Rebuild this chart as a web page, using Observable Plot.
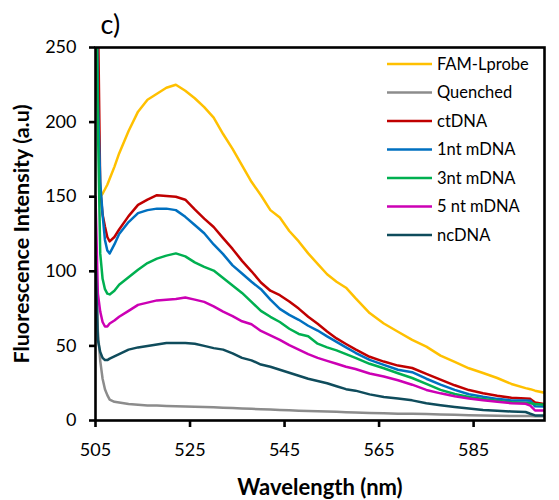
<!DOCTYPE html>
<html>
<head>
<meta charset="utf-8">
<script src="https://cdn.jsdelivr.net/npm/d3@7"></script>
<script src="https://cdn.jsdelivr.net/npm/@observablehq/plot@0.6"></script>
<style>
  html, body { margin: 0; padding: 0; background: #ffffff; }
  #chart { width: 559px; height: 500px; }
</style>
</head>
<body>
<div id="chart"></div>
<script>
// ---- data ----
const wavelength = [505, 505.5, 506, 506.5, 507, 507.5, 508, 509, 510, 512, 514, 516, 518, 520, 522, 524, 526, 528, 530, 532, 534, 536, 538, 540, 542, 544, 546, 548, 550, 552, 554, 556, 558, 560, 563, 566, 569, 572, 575, 578, 581, 584, 587, 590, 593, 596, 597, 598, 600];

const famLprobe = [null, null, 150, 152, 155, 158, 162, 170, 179, 194, 207, 215, 219, 223, 225, 221, 216, 210, 203, 192, 182, 171, 160, 151, 141, 136, 127, 120, 112, 105, 98, 93, 89, 82, 72, 65, 59.5, 54, 49.5, 43.5, 39.3, 35, 31.8, 28.5, 24.5, 21.7, 21, 20, 18.6];
const quenched = [120, 60, 40, 28, 21, 17, 14, 12.5, 12, 11, 10.5, 10, 10, 9.8, 9.6, 9.4, 9.2, 9, 8.8, 8.5, 8.3, 8, 7.8, 7.5, 7.3, 7, 6.8, 6.6, 6.4, 6.2, 6, 5.8, 5.5, 5.3, 5, 4.8, 4.6, 4.5, 4.3, 4, 3.8, 3.5, 3.4, 3.2, 3, 3, 3, 2.9, 2.9];
const ctDNA = [450, 280, 155, 138, 130, 123, 120, 123, 128, 137, 144.5, 148, 151, 150.5, 150, 148, 141.5, 135.3, 129.7, 122.2, 115, 107, 100, 92.5, 87, 84, 79.8, 75, 69.5, 64.8, 59.7, 55, 51.3, 47.7, 42.7, 39.5, 36.8, 35.2, 31.3, 27.4, 23.6, 20.4, 18.3, 16.6, 15.2, 14.7, 14.5, 12, 11];
const nt1mDNA = [350, 215, 160, 138, 121, 114, 112, 118, 125, 133, 139, 141, 142, 142, 141, 136.5, 131, 125.5, 118, 111.5, 104, 98.5, 93, 88, 81, 74.8, 70.8, 67.5, 63.5, 60.3, 56.4, 52.7, 49, 45.4, 40.6, 37.3, 34, 32.4, 28, 24, 20.5, 17.6, 15.9, 14.5, 13.4, 13.4, 13.3, 9.5, 9.4];
const nt3mDNA = [330, 200, 112, 95, 88, 85, 84.5, 87, 91, 96, 101, 105.5, 108.5, 110.5, 112, 110, 106, 103, 100.5, 95.5, 90.5, 85.5, 79.5, 73.5, 69.5, 66, 61.5, 58, 56.5, 51.5, 49, 47, 44.5, 42, 38, 35, 31.7, 28.5, 24.5, 20.5, 17.8, 15.8, 14.5, 13.3, 12.2, 11.7, 11.6, 11, 10.5];
const nt5mDNA = [150, 85, 73, 66, 63, 63, 65, 67, 69.5, 73.5, 77.5, 79, 80.5, 81, 81.5, 82.5, 81, 79.5, 76.5, 73, 70, 66.5, 64.5, 60, 57, 54, 50.5, 47.5, 44.5, 42, 40, 38, 36, 34.5, 31.5, 29.5, 27, 24, 20.5, 18.2, 16.2, 14.7, 13.5, 12.5, 11.6, 11.2, 10, 6.7, 6.7];
const ncDNA = [110, 54, 46, 42, 40.5, 40.5, 41.5, 43, 44.5, 47.5, 49, 50, 51, 52, 52, 52, 51.5, 50, 48.5, 47.5, 45, 42, 40.3, 37.5, 36, 34, 32, 30, 28, 26.5, 25, 23, 21, 20, 17.5, 15.8, 14.7, 13.5, 11.6, 10.2, 9, 8, 7, 6.5, 6, 5.7, 4.5, 3.4, 3.4];

const seriesNames = ["FAM-Lprobe", "Quenched", "ctDNA", "1nt mDNA", "3nt mDNA", "5 nt mDNA", "ncDNA"];
const seriesColors = ["#FFC000", "#8C8C8C", "#C00000", "#0070C0", "#00B050", "#CC00B4", "#0F4C5C"];
const xTicks = [505, 525, 545, 565, 585];
const yTicks = [0, 50, 100, 150, 200, 250];
const panelLabel = "c)";
const xTitle = "Wavelength (nm)";
const yTitle = "Fluorescence Intensity (a.u)";

// ---- build long table ----
const seriesValues = [famLprobe, quenched, ctDNA, nt1mDNA, nt3mDNA, nt5mDNA, ncDNA];
const rows = [];
seriesNames.forEach((name, i) => {
  wavelength.forEach((w, j) => {
    const v = seriesValues[i][j];
    if (v != null) rows.push({series: name, wavelength: w, value: v});
  });
});

const FONT = "Lato, 'Open Sans', sans-serif";

const chart = Plot.plot({
  width: 559,
  height: 500,
  marginTop: 47,
  marginRight: 15,
  marginBottom: 80,
  marginLeft: 95,
  style: {fontFamily: FONT, background: "#ffffff", color: "#000000"},
  x: {domain: [505, 600]},
  y: {domain: [0, 250]},
  color: {domain: seriesNames, range: seriesColors},
  marks: [
    Plot.line(rows, {x: "wavelength", y: "value", z: "series", stroke: "series", strokeWidth: 2.5, clip: true}),
    Plot.frame({stroke: "#000000", strokeWidth: 2.6}),
    Plot.axisX({ticks: xTicks, tickSize: 7, tickPadding: 16, fontSize: 18, strokeWidth: 2.6, label: null, tickFormat: d => String(d)}),
    Plot.axisY({ticks: yTicks, tickSize: 6, tickPadding: 13, fontSize: 18, strokeWidth: 2.6, label: null, tickFormat: d => String(d)}),
    Plot.text([xTitle], {frameAnchor: "bottom", lineAnchor: "middle", textAnchor: "middle", dy: 67, fontSize: 22, fontWeight: "bold", fill: "#000000"}),
    Plot.text([yTitle], {frameAnchor: "left", lineAnchor: "middle", textAnchor: "middle", dx: -73, rotate: -90, fontSize: 21.5, fontWeight: "bold", fill: "#000000"}),
    Plot.text([panelLabel], {frameAnchor: "top-left", lineAnchor: "middle", textAnchor: "start", dx: 5, dy: -22, fontSize: 27, fill: "#000000"})
  ]
});

// ---- legend inside the plot area (top right) ----
const svg = d3.select(chart);
const lg = svg.append("g").attr("font-family", FONT).attr("font-size", 16.5).attr("text-anchor", "start");
seriesNames.forEach((name, i) => {
  const y = 64 + i * 28.5;
  lg.append("line")
    .attr("x1", 387).attr("x2", 432).attr("y1", y).attr("y2", y)
    .attr("stroke", seriesColors[i]).attr("stroke-width", 2.5);
  lg.append("text")
    .attr("x", 437).attr("y", y).attr("dy", "0.35em")
    .attr("text-anchor", "start")
    .attr("fill", "#000000")
    .text(name);
});

document.getElementById("chart").appendChild(chart);
</script>
</body>
</html>
